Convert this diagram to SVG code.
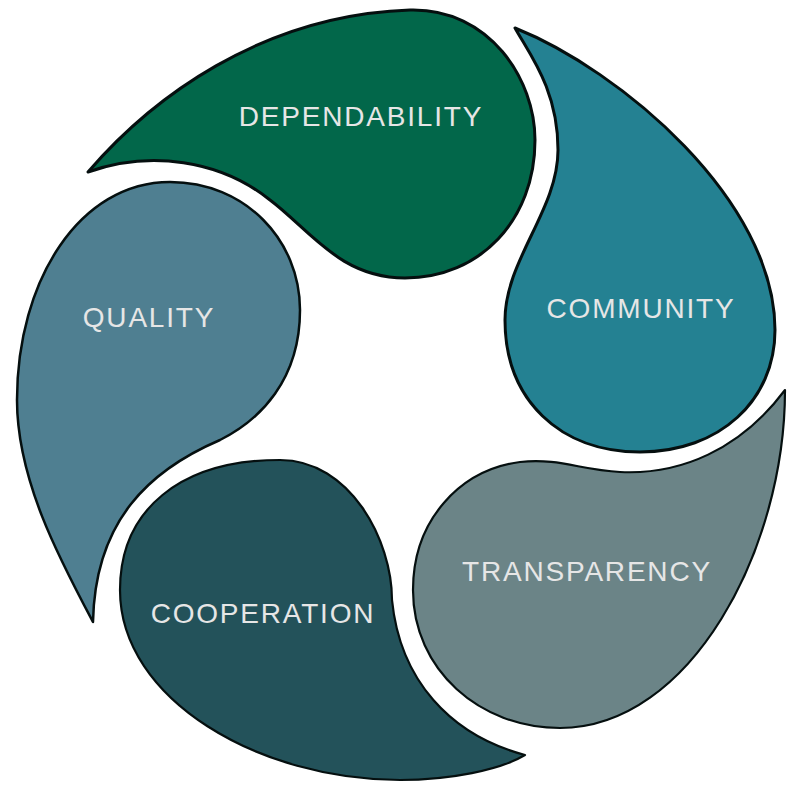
<svg xmlns="http://www.w3.org/2000/svg" width="800" height="800" viewBox="0 0 800 800">
<style>
.shape{stroke:#050f0f;stroke-linejoin:round}
.lbl{font-family:"Liberation Sans",Arial,sans-serif;font-size:28px;fill:#e6e6e6;text-anchor:middle;letter-spacing:1.8px}
</style>
<rect width="800" height="800" fill="#fff"/>
<g id="dependability">
<path class="shape" stroke-width="3" fill="#02674a" d="M 88,172 C 150,100 260,15 410,10 C 490,8 535,80 535,140 C 535,220 480,278 405,278 C 340,278 310,230 270,200 C 220,160 150,150 88,172 Z"/>
<text class="lbl" x="361" y="126">DEPENDABILITY</text>
</g>
<g id="community">
<path class="shape" stroke-width="3" fill="#248192" d="M 515,28 C 620,70 775,200 775,330 C 775,400 720,452 640,452 C 560,452 505,400 505,320 C 505,260 558,210 558,150 C 558,90 530,55 515,28 Z"/>
<text class="lbl" x="641" y="318">COMMUNITY</text>
</g>
<g id="transparency">
<path class="shape" stroke-width="2.2" fill="#6b8487" d="M 785,390 C 740,450 680,475 620,472 C 580,470 560,458 520,462 C 460,470 413,520 413,590 C 413,670 480,728 560,728 C 690,728 785,550 785,390 Z"/>
<text class="lbl" x="587" y="581">TRANSPARENCY</text>
</g>
<g id="cooperation">
<path class="shape" stroke-width="2.2" fill="#23525a" d="M 525,755 C 450,735 400,680 392,600 C 392,540 350,460 280,460 C 180,460 120,510 120,590 C 120,700 260,780 400,780 C 450,780 500,770 525,755 Z"/>
<text class="lbl" x="263" y="623">COOPERATION</text>
</g>
<g id="quality">
<path class="shape" stroke-width="2.5" fill="#4f7f91" d="M 93,622 C 60,560 17,480 17,400 C 17,280 80,182 170,182 C 245,182 300,240 300,310 C 300,380 260,420 220,440 C 150,470 95,520 93,622 Z"/>
<text class="lbl" x="149" y="327">QUALITY</text>
</g>
<g id="connectors"/>
</svg>
